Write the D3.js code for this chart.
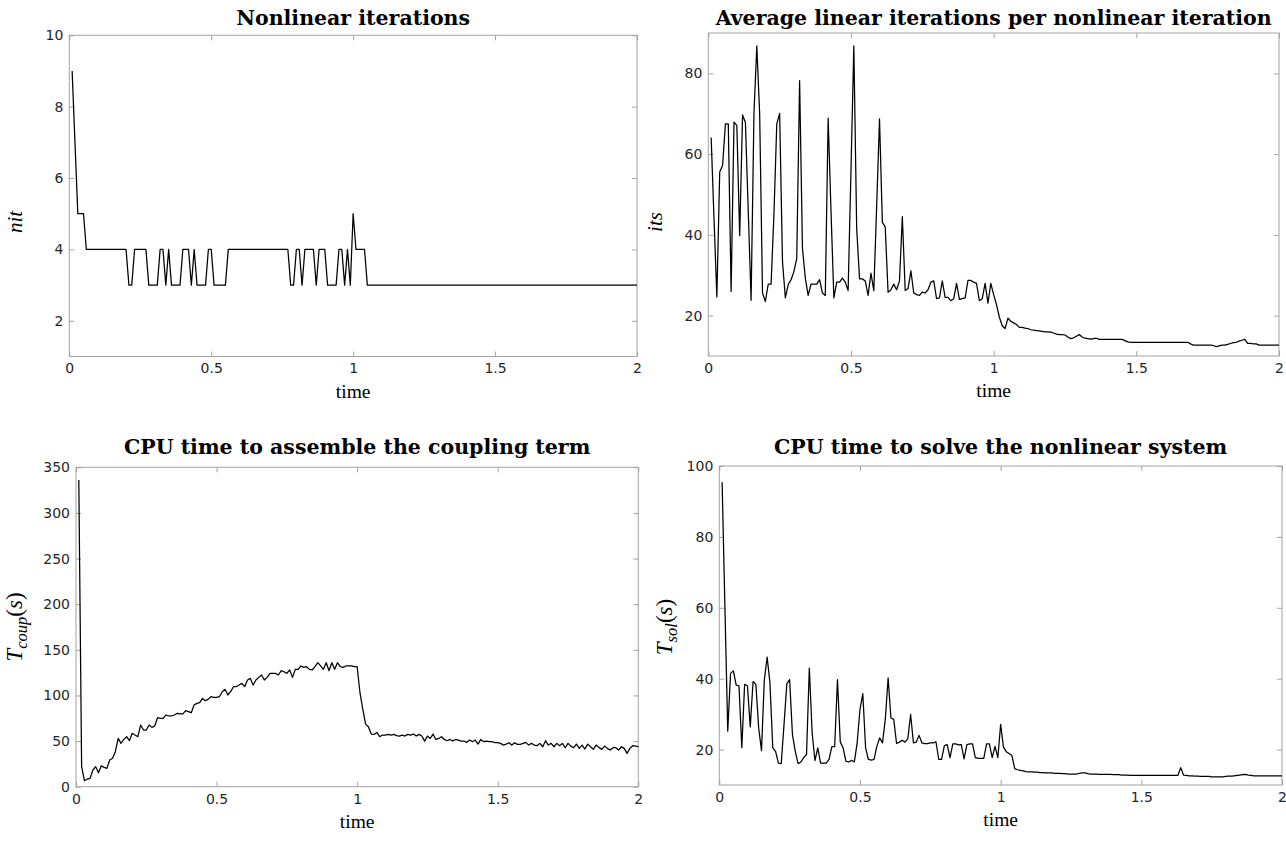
<!DOCTYPE html>
<html><head><meta charset="utf-8">
<script src="https://cdn.jsdelivr.net/npm/d3@7"></script>
<style>body{margin:0;background:#fff}svg{display:block}</style>
</head><body><svg id="fig" width="1286" height="842"></svg>
<script>
// ---- data (time step 0.01, t = 0.01 ... 2.00) ----
const timeStep = 0.01;
const xTicks = [0, 0.5, 1, 1.5, 2];

const nitValues = [
9,7,5,5,5,4,4,4,4,4, 4,4,4,4,4,4,4,4,4,4,
3,3,4,4,4,4,4,3,3,3, 3,4,4,3,4,3,3,3,3,4,
4,4,3,4,3,3,3,3,4,4, 3,3,3,3,3,4,4,4,4,4,
4,4,4,4,4,4,4,4,4,4, 4,4,4,4,4,4,4,3,3,4,
4,3,4,4,4,4,3,4,4,4, 3,3,3,3,4,4,3,4,3,5,
4,4,4,4,3,3,3,3,3,3, 3,3,3,3,3,3,3,3,3,3,
3,3,3,3,3,3,3,3,3,3, 3,3,3,3,3,3,3,3,3,3,
3,3,3,3,3,3,3,3,3,3, 3,3,3,3,3,3,3,3,3,3,
3,3,3,3,3,3,3,3,3,3, 3,3,3,3,3,3,3,3,3,3,
3,3,3,3,3,3,3,3,3,3, 3,3,3,3,3,3,3,3,3,3];
const nitTicks = [2, 4, 6, 8, 10];

const itsValues = [
64.1,44,24.6,55.6,57.2,67.5,67.5,26,67.9,67.1, 39.8,69.7,67.9,46,23.8,70,86.8,70,25.6,23.5,
27.8,27.8,45,67.5,70.1,33.4,24.4,27.7,28.9,30.9, 34.2,78.2,36.7,29.3,25,27.8,27.8,27.8,28.9,25.6,
25,68.9,46,24.4,28.3,28.3,29.3,28.3,26.2,56, 86.8,41.6,29.1,29.1,28.6,25,30.5,26.2,47,68.7,
43.1,42,25.8,26.4,27.8,26.4,28.6,44.5,26.2,26.7, 31.1,25.6,25.2,25,25.8,25.6,26.4,28.3,28.6,24.2,
24.4,28.6,24.5,24.5,23.7,24.2,28,24,24.2,24.4, 28.7,28.7,28.3,28,23.7,24.2,28,23.1,28,25.2,
22.7,19.6,17.5,16.8,19.4,18.6,18.2,17.8,17.1,17.1, 16.9,16.8,16.5,16.4,16.3,16.2,16.1,16,16,15.9,
15.7,15.4,15.3,15.3,15.2,14.7,14.3,14.5,14.9,15.3, 14.7,14.4,14.3,14.2,14.3,14.4,14.1,14.1,14.1,14.1,
14.1,14.1,14.1,14.1,14.1,13.8,13.5,13.4,13.4,13.4, 13.4,13.4,13.4,13.4,13.4,13.4,13.4,13.4,13.4,13.4,
13.4,13.4,13.4,13.4,13.4,13.4,13.4,13.4,13,12.7, 12.7,12.7,12.7,12.7,12.7,12.7,12.6,12.3,12.5,12.7,
12.7,12.9,13.1,13.3,13.4,13.7,13.9,14.1,13.1,13.1, 13,13,12.7,12.7,12.7,12.7,12.7,12.7,12.7,12.7];
const itsTicks = [20, 40, 60, 80];

const tcoupValues = [
336,22,6.6,8.4,9.1,18.3,21.9,15.3,23,21.2, 20.1,29.2,31.1,38.4,53,47.5,51.9,54.8,50.4,58.5,
56.6,54.8,67.6,62.1,62.1,67.6,65,66.5,75.6,74.9, 74.9,78.6,77.5,77.5,78.6,80.4,79.7,79.7,83.3,82.2,
81.1,89.5,91.3,92.1,96.8,94.3,95.7,98.6,97.9,97.9, 98.6,104.1,106.7,100.5,104.1,109.6,109.6,111.4,113.3,109.6,
116.9,118.7,111.4,116.9,119.8,122.4,116.9,119.8,124.2,124.2, 124.2,122.4,127.1,126,124.2,127.9,119.8,128.6,128.6,132.3,
130.8,131.5,128.6,127.9,131.5,135.9,132.3,128.6,135.9,127.1, 135.9,128.6,135.9,131.5,130.8,132.3,132.3,132.3,131.5,131.5,
103,85,68.6,65.7,57.7,57.3,59.5,54.8,56.6,56.6, 57.3,56.6,57.3,55.9,55.5,56.6,55.5,57.3,56.6,57.7,
55.5,57.3,55.5,50,55.5,52.9,57.7,51.8,52.9,54.8, 51.8,50.4,51.8,50,51.8,51.1,50,50,48.6,51.1,
49.3,51.1,46.7,51.8,49.3,50,49.3,49.3,48.2,48.2, 47.5,45.6,46.7,48.2,45.6,48.2,46.4,46.4,47.5,48.6,
45.6,47.5,45.6,44.9,47.5,43.8,50.4,45.6,47.5,43.8, 47.5,44.9,47.5,42.7,47.5,44.5,42.7,46.7,42,45.6,
41.3,46.7,43.8,40.9,45.6,43.1,40.9,44.5,42,40.2, 42.7,42.7,40.2,43.8,42,36.5,42,44.9,44.5,44];
const tcoupTicks = [0, 50, 100, 150, 200, 250, 300, 350];

const tsolValues = [
95.4,60,25.2,41.5,42.2,38.2,38,20.5,38.4,38, 26.4,39.2,38.4,26,19.7,39.6,46.1,38.8,20.5,19.5,
16.2,16,27,38.6,39.7,24.2,19.5,16,16.5,17.7, 18.6,43,24.7,16.9,20.5,16.2,16.2,16.2,17.2,20.8,
20.8,39.7,22.1,20.5,16.7,16.5,17,16.5,21.9,31.3, 35.8,20.5,17.2,17,17.2,20.9,23.3,21.9,28.5,40.2,
28.9,28.5,21.7,22.1,22.6,22.1,23,29.9,21.9,22.1, 24,21.9,21.7,21.7,21.9,21.9,22.2,17.2,17.2,21.1,
21.4,17.7,21.6,21.6,21.3,21.4,17.4,21.4,21.6,21.6, 17.7,17.5,17.5,17.5,21.6,21.6,17.7,20.9,17.7,27.1,
20.7,19.4,18.9,18.3,14.6,14.3,14.1,14,13.8,13.7, 13.7,13.6,13.6,13.5,13.5,13.4,13.4,13.4,13.3,13.3,
13.3,13.2,13.2,13.1,13.1,13.1,13.1,13.3,13.4,13.4, 13.2,13.1,13.1,13.1,13,13,13,13,13,12.9,
12.9,12.9,12.8,12.8,12.8,12.7,12.7,12.7,12.7,12.7, 12.7,12.7,12.7,12.7,12.7,12.7,12.7,12.7,12.7,12.7,
12.7,12.7,12.7,14.9,12.8,12.7,12.6,12.6,12.5,12.5, 12.4,12.4,12.4,12.4,12.3,12.3,12.3,12.3,12.3,12.4,
12.5,12.5,12.6,12.7,12.8,12.9,13,12.8,12.7,12.6, 12.6,12.6,12.6,12.6,12.6,12.6,12.6,12.6,12.6,12.6];
const tsolTicks = [20, 40, 60, 80, 100];

const panelTitles = [
  "Nonlinear iterations",
  "Average linear iterations per nonlinear iteration",
  "CPU time to assemble the coupling term",
  "CPU time to solve the nonlinear system"];
const xLabel = "time";

// ---- layout ----
const panels = [
  {box:{l:69.3,t:35.3,r:637,b:356.5}, yDom:[1,10], yTicks:nitTicks, vals:nitValues, title:panelTitles[0],
   titleY:25, ylab:[{t:"nit"}], ylx:22, yly:222, ylSize:21},
  {box:{l:708.3,t:33,r:1279,b:356}, yDom:[10,90], yTicks:itsTicks, vals:itsValues, title:panelTitles[1],
   titleY:25, ylab:[{t:"its"}], ylx:662, yly:222, ylSize:21},
  {box:{l:76,t:467.3,r:638.3,b:786.7}, yDom:[0,350], yTicks:tcoupTicks, vals:tcoupValues, title:panelTitles[2],
   titleY:454, ylab:[{t:"T"},{t:"coup",sub:true},{t:"(",up:true},{t:"s"},{t:")",up:true}], ylx:22, yly:627, ylSize:23},
  {box:{l:719.3,t:466,r:1282,b:785}, yDom:[10,100], yTicks:tsolTicks, vals:tsolValues, title:panelTitles[3],
   titleY:454, ylab:[{t:"T"},{t:"sol",sub:true},{t:"(",up:true},{t:"s"},{t:")",up:true}], ylx:672, yly:627, ylSize:23}
];

const svg = d3.select("#fig");
svg.append("rect").attr("width",1286).attr("height",842).attr("fill","#fff");

const axisColor = "#a3a3a3";
const tickFont = "DejaVu Sans, sans-serif";
const serif = "'Liberation Serif', 'DejaVu Serif', serif";
const titleFont = "'DejaVu Serif', serif";

panels.forEach(p => {
  const {l,t,r,b} = p.box;
  const x = d3.scaleLinear().domain([0,2]).range([l,r]);
  const y = d3.scaleLinear().domain(p.yDom).range([b,t]);
  const g = svg.append("g");

  g.append("rect").attr("x",l).attr("y",t).attr("width",r-l).attr("height",b-t)
    .attr("fill","none").attr("stroke",axisColor).attr("stroke-width",1);

  const style = (sel, labels) => {
    sel.select(".domain").remove();
    sel.selectAll(".tick line").attr("stroke",axisColor);
    sel.selectAll(".tick text").attr("fill", labels ? "#262626" : "none")
      .attr("font-family",tickFont).attr("font-size",14);
  };
  g.append("g").attr("transform",`translate(0,${b})`)
    .call(d3.axisBottom(x).tickValues(xTicks).tickFormat(d3.format("")).tickSize(-5).tickPadding(7))
    .call(s=>style(s,true));
  g.append("g").attr("transform",`translate(0,${t})`)
    .call(d3.axisTop(x).tickValues(xTicks).tickFormat("").tickSize(-5))
    .call(s=>style(s,false));
  g.append("g").attr("transform",`translate(${l},0)`)
    .call(d3.axisLeft(y).tickValues(p.yTicks).tickFormat(d3.format("")).tickSize(-5).tickPadding(6))
    .call(s=>style(s,true));
  g.append("g").attr("transform",`translate(${r},0)`)
    .call(d3.axisRight(y).tickValues(p.yTicks).tickFormat("").tickSize(-5))
    .call(s=>style(s,false));

  const line = d3.line().x((d,i)=>x((i+1)*timeStep)).y(d=>y(d));
  g.append("path").datum(p.vals).attr("d",line).attr("fill","none")
    .attr("stroke","#000").attr("stroke-width",1.25).attr("stroke-linejoin","round");

  g.append("text").attr("x",(l+r)/2).attr("y",p.titleY).attr("text-anchor","middle")
    .attr("font-family",titleFont).attr("font-weight","bold").attr("font-size",20.5)
    .attr("fill","#000").text(p.title);

  g.append("text").attr("x",(l+r)/2).attr("y",b+41).attr("text-anchor","middle")
    .attr("font-family",serif).attr("font-size",19.5).attr("fill","#000").text(xLabel);

  const yl = g.append("text").attr("transform",`translate(${p.ylx},${p.yly}) rotate(-90)`)
    .attr("text-anchor","middle").attr("font-family",serif).attr("font-size",p.ylSize).attr("fill","#000");
  p.ylab.forEach(part => {
    const ts = yl.append("tspan").text(part.t);
    if (part.sub) ts.attr("font-size",p.ylSize*0.72).attr("dy",5);
    else if (part.t === "(") ts.attr("dy",-5);
    if (!part.up) ts.attr("font-style","italic");
  });
});
</script></body></html>
